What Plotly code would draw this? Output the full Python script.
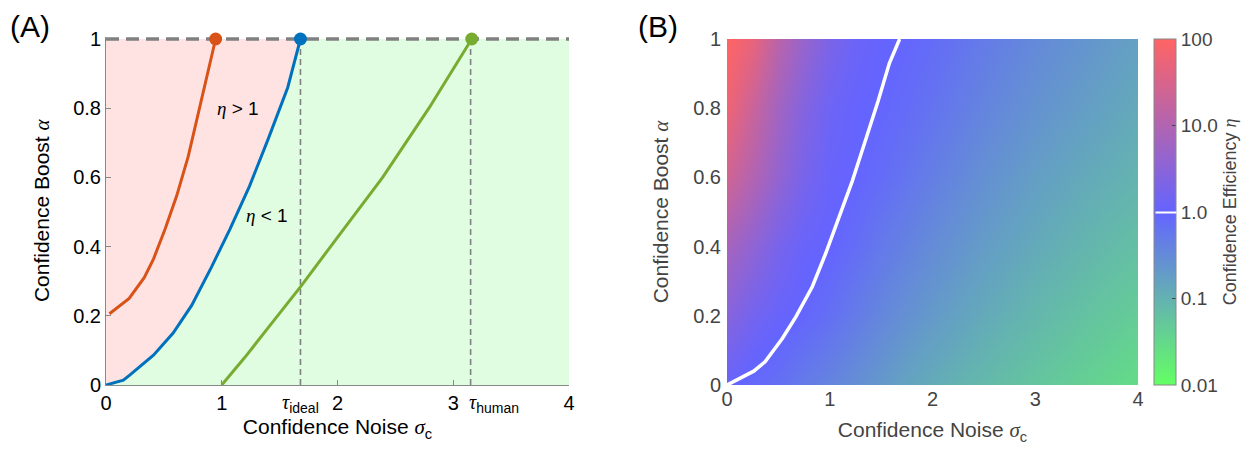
import plotly.graph_objects as go

W, H = 1251, 453
PAGE_OFFSET = 8  # body margin of the html page

# ---- panel A data ----
ORANGE_X = [0.03, 0.2, 0.33, 0.41, 0.51, 0.61, 0.71, 0.81, 0.89, 0.947]
ORANGE_Y = [0.206, 0.25, 0.31, 0.364, 0.45, 0.546, 0.66, 0.80, 0.92, 1.0]

BLUE_X = [0.0, 0.15, 0.21, 0.41, 0.58, 0.74, 0.91, 1.07, 1.24, 1.40, 1.57, 1.68]
BLUE_Y = [0.0, 0.014, 0.03, 0.086, 0.15, 0.23, 0.34, 0.45, 0.575, 0.71, 0.86, 1.0]

GREEN_X = [1.0, 1.2, 1.4, 1.69, 1.94, 2.39, 2.79, 3.16]
GREEN_Y = [0.0, 0.08, 0.165, 0.288, 0.4, 0.6, 0.8, 1.0]

TAU_IDEAL = 1.68
TAU_HUMAN = 3.15
X_MAX, Y_MAX = 4, 1
Y_PAD = 0.007  # a little headroom so the dashed line at alpha = 1 is not clipped

X_TICKS = [0, 1, 2, 3, 4]
Y_TICKS = [0, 0.2, 0.4, 0.6, 0.8, 1]
Y_TICKTEXT = ["0", "0.2", "0.4", "0.6", "0.8", "1"]

# ---- panel B data: log10(eta) on a coarse grid ----
SIGMA_GRID = [0, 0.25, 0.5, 0.75, 1.0, 1.25, 1.5, 1.75, 2.0, 2.5, 3.0, 3.5, 4.0]
ALPHA_GRID = [0, 0.2, 0.4, 0.6, 0.8, 1.0]
LOG_ETA = [
    [0.05, -0.08, -0.15, -0.30, -0.42, -0.55, -0.68, -0.82, -0.92, -1.10, -1.25, -1.40, -1.55],
    [0.45, 0.20, 0.05, -0.03, -0.15, -0.30, -0.45, -0.58, -0.70, -0.90, -1.07, -1.22, -1.35],
    [0.85, 0.55, 0.25, 0.05, 0.00, -0.12, -0.27, -0.40, -0.52, -0.73, -0.90, -1.05, -1.18],
    [1.40, 1.00, 0.60, 0.25, 0.05, 0.00, -0.10, -0.22, -0.35, -0.57, -0.75, -0.90, -1.02],
    [1.80, 1.30, 0.80, 0.40, 0.12, 0.02, -0.02, -0.10, -0.20, -0.42, -0.60, -0.75, -0.90],
    [2.00, 1.70, 1.10, 0.65, 0.30, 0.10, 0.02, -0.03, -0.10, -0.30, -0.48, -0.63, -0.78],
]
CONTOUR_X = [0, 0.26, 0.37, 0.54, 0.67, 0.83, 0.96, 1.09, 1.22, 1.34, 1.47, 1.58, 1.68]
CONTOUR_Y = [0, 0.04, 0.067, 0.135, 0.197, 0.284, 0.38, 0.486, 0.59, 0.70, 0.82, 0.93, 1.0]

CBAR_TICKS = [-2, -1, 0, 1, 2]
CBAR_TEXT = ["0.01", "0.1", "1.0", "10.0", "100"]

ORANGE = "#D95319"
BLUE = "#0072BD"
GREEN = "#77AC30"
GREY_TXT = "#444444"

FONT = "Liberation Sans"
SERIF = "<span style='font-family:Liberation Serif'><i>{}</i></span>"


def px_x(p):
    return (p - PAGE_OFFSET) / W


def px_y(p):
    return 1 - (p - PAGE_OFFSET) / H


fig = go.Figure()

# background regions
fig.add_trace(go.Scatter(
    x=[0, X_MAX, X_MAX, 0], y=[0, 0, Y_MAX, Y_MAX], fill="toself",
    fillcolor="#E1FDE1", line=dict(width=0), mode="lines",
    hoverinfo="skip", showlegend=False, xaxis="x", yaxis="y",
))
fig.add_trace(go.Scatter(
    x=BLUE_X + [0], y=BLUE_Y + [Y_MAX], fill="toself",
    fillcolor="#FFE3E3", line=dict(width=0), mode="lines",
    hoverinfo="skip", showlegend=False, xaxis="x", yaxis="y",
))

# dashed reference lines
for t in (TAU_IDEAL, TAU_HUMAN):
    fig.add_trace(go.Scatter(
        x=[t, t], y=[0, Y_MAX], mode="lines",
        line=dict(color="#808080", width=1.6, dash="6px,4px"),
        hoverinfo="skip", showlegend=False, xaxis="x", yaxis="y",
    ))
fig.add_trace(go.Scatter(
    x=[0, X_MAX], y=[Y_MAX, Y_MAX], mode="lines",
    line=dict(color="#808080", width=3.5, dash="13px,7px"),
    hoverinfo="skip", showlegend=False, xaxis="x", yaxis="y",
))

# curves
for xs, ys, c in ((ORANGE_X, ORANGE_Y, ORANGE), (BLUE_X, BLUE_Y, BLUE), (GREEN_X, GREEN_Y, GREEN)):
    fig.add_trace(go.Scatter(
        x=xs, y=ys, mode="lines", line=dict(color=c, width=3),
        hoverinfo="skip", showlegend=False, xaxis="x", yaxis="y",
    ))
    fig.add_trace(go.Scatter(
        x=[xs[-1]], y=[ys[-1]], mode="markers",
        marker=dict(color=c, size=13), cliponaxis=False,
        hoverinfo="skip", showlegend=False, xaxis="x", yaxis="y",
    ))

# panel B heatmap
fig.add_trace(go.Heatmap(
    x=SIGMA_GRID, y=ALPHA_GRID, z=LOG_ETA, zsmooth="best",
    zmin=-2, zmax=2,
    colorscale=[[0, "rgb(100,255,100)"], [0.5, "rgb(100,100,255)"], [1, "rgb(255,100,100)"]],
    colorbar=dict(
        x=px_x(1154), xanchor="left", xpad=0,
        y=px_y(212), yanchor="middle", ypad=0,
        thickness=22, len=346, lenmode="pixels",
        outlinecolor="#888888", outlinewidth=1,
        tickvals=CBAR_TICKS, ticktext=CBAR_TEXT,
        ticks="inside", ticklen=4, tickcolor="#444444",
        tickfont=dict(size=19, color=GREY_TXT, family=FONT),
        title=dict(text="Confidence Efficiency " + SERIF.format("η"), side="right",
                   font=dict(size=18, color=GREY_TXT, family=FONT)),
    ),
    hoverinfo="skip", xaxis="x2", yaxis="y2",
))
fig.add_trace(go.Scatter(
    x=CONTOUR_X, y=CONTOUR_Y, mode="lines", line=dict(color="white", width=3.5),
    hoverinfo="skip", showlegend=False, xaxis="x2", yaxis="y2",
))

axis_common = dict(showgrid=False, zeroline=False)

fig.update_layout(
    width=W, height=H,
    margin=dict(l=0, r=0, t=0, b=0, pad=0, autoexpand=False),
    paper_bgcolor="white", plot_bgcolor="white",
    font=dict(family=FONT, size=19, color="black"),
    xaxis=dict(
        domain=[px_x(106), px_x(569)], range=[0, X_MAX], tickvals=X_TICKS,
        ticks="inside", ticklen=5, tickcolor="#888888",
        showline=True, linecolor="#888888", linewidth=1,
        tickfont=dict(size=20), anchor="y",
        title=dict(text="Confidence Noise " + SERIF.format("σ") + "<sub>c</sub>",
                   font=dict(size=21), standoff=6),
        **axis_common,
    ),
    yaxis=dict(
        domain=[px_y(385), px_y(39 - 346 * Y_PAD)], range=[0, Y_MAX + Y_PAD],
        tickvals=Y_TICKS, ticktext=Y_TICKTEXT,
        ticks="inside", ticklen=5, tickcolor="#888888",
        showline=True, linecolor="#888888", linewidth=1,
        tickfont=dict(size=20), anchor="x",
        title=dict(text="Confidence Boost " + SERIF.format("α"), font=dict(size=21), standoff=17),
        **axis_common,
    ),
    xaxis2=dict(
        domain=[px_x(727), px_x(1138)], range=[0, X_MAX], tickvals=X_TICKS,
        ticks="", showline=False, anchor="y2",
        tickfont=dict(size=20, color=GREY_TXT),
        title=dict(text="Confidence Noise " + SERIF.format("σ") + "<sub>c</sub>",
                   font=dict(size=21, color=GREY_TXT), standoff=13),
        **axis_common,
    ),
    yaxis2=dict(
        domain=[px_y(385), px_y(39)], range=[0, Y_MAX], tickvals=Y_TICKS, ticktext=Y_TICKTEXT,
        ticks="", showline=False, anchor="x2", ticklabelstandoff=5,
        tickfont=dict(size=20, color=GREY_TXT),
        title=dict(text="Confidence Boost " + SERIF.format("α"),
                   font=dict(size=21, color=GREY_TXT), standoff=18),
        **axis_common,
    ),
)

annotations = [
    dict(text="(A)", x=px_x(8), y=px_y(27), xref="paper", yref="paper",
         xanchor="left", yanchor="middle", showarrow=False, font=dict(size=30)),
    dict(text="(B)", x=px_x(636), y=px_y(27), xref="paper", yref="paper",
         xanchor="left", yanchor="middle", showarrow=False, font=dict(size=30)),
    dict(text=SERIF.format("η") + " > 1", x=1.14, y=0.80, xref="x", yref="y",
         showarrow=False, font=dict(size=19)),
    dict(text=SERIF.format("η") + " < 1", x=1.39, y=0.49, xref="x", yref="y",
         showarrow=False, font=dict(size=19)),
    dict(text=SERIF.format("τ") + "<sub>ideal</sub>", x=TAU_IDEAL, y=0, xref="x", yref="y",
         xanchor="center", yanchor="top", yshift=-4, showarrow=False, font=dict(size=20)),
    dict(text=SERIF.format("τ") + "<sub>human</sub>", x=TAU_HUMAN, y=0, xref="x", yref="y",
         xanchor="left", yanchor="top", yshift=-4, xshift=-4, showarrow=False, font=dict(size=20)),
    # white marker for eta = 1 on the colorbar
    dict(text=" ", x=px_x(1155), y=px_y(212), xref="paper", yref="paper",
         xanchor="left", yanchor="middle", width=20, height=1, borderpad=0,
         bgcolor="white", showarrow=False, font=dict(size=1)),
]
fig.update_layout(annotations=annotations)

fig.write_html("out.html")
